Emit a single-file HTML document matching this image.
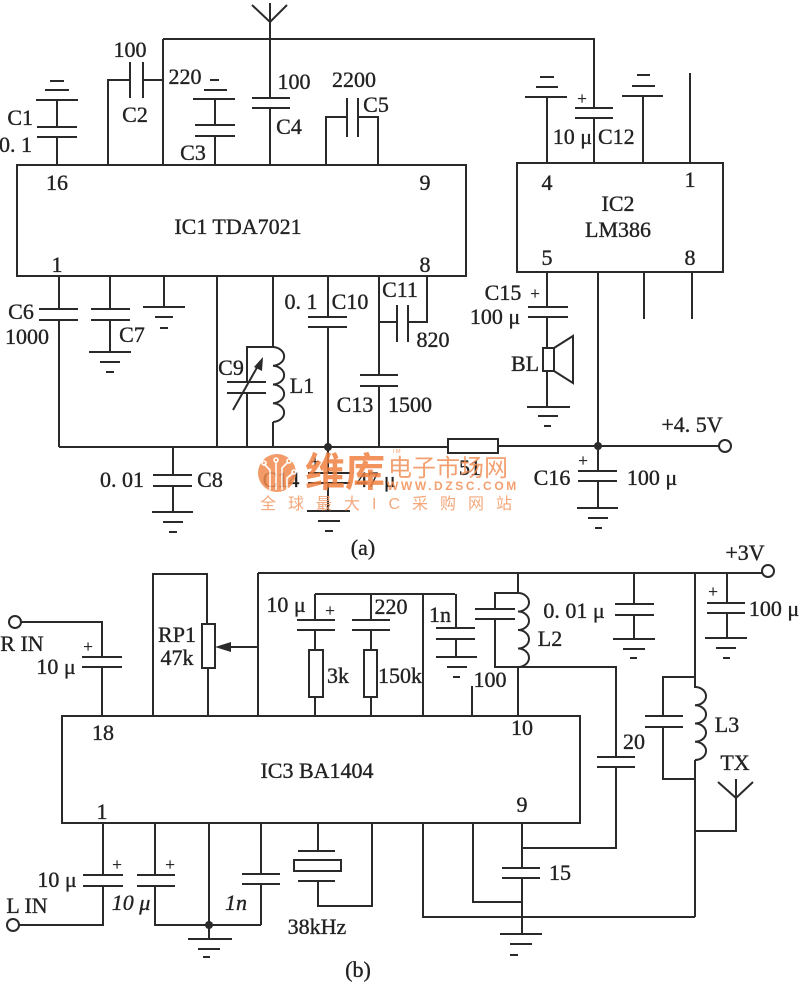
<!DOCTYPE html>
<html><head><meta charset="utf-8"><style>
html,body{margin:0;padding:0;background:#fff;}
svg{display:block;}
text{font-family:"Liberation Serif","Noto Serif CJK SC",serif;fill:#222;font-size:22px;stroke:#222;stroke-width:0.35px;}
.s{font-size:17px;}
.wm{font-family:"Liberation Sans","Noto Sans CJK SC",sans-serif;stroke:none;}
</style></head><body>
<svg width="800" height="982" viewBox="0 0 800 982" xmlns="http://www.w3.org/2000/svg">
<g stroke="#2a2a2a" stroke-width="2" fill="none">
<!-- (a) top -->
<path d="M252,5 L270,22 L287,5 M270,3 V98 M252,98 H290 M252,108 H290 M270,108 V165
M163,39 H594 V108 M575,108 H613 M575,118 H613 M594,118 V163
M163,39 V165
M108,165 V80 H130 M130,62 V98 M143,62 V98 M143,80 H163
M50,81 H64 M45,90 H69 M36,100 H78 M57,100 V127 M37,127 H77 M37,137 H77 M57,137 V165
M210,80 H219 M204,90 H227 M193,99 H235 M215,99 V125 M195,125 H235 M195,136 H235 M215,136 V165
M347,98 V137 M358,98 V137 M347,117 H326 V165 M358,117 H378 V165
M540,77 H554 M536,87 H558 M525,97 H567 M547,97 V163
M637,75 H650 M632,86 H655 M622,96 H663 M643,96 V163
M690,73 V163"/>
<rect x="17" y="165" width="449" height="111"/>
<rect x="517" y="163" width="206" height="109"/>
<!-- (a) bottom -->
<path d="M59,276 V309 M39,309 H78 M39,320 H78 M59,320 V447
M110,276 V309 M91,309 H130 M91,320 H130 M110,320 V352 M89,352 H131 M100,362 H120 M106,372 H114
M164,276 V307 M143,307 H185 M155,317 H173 M160,328 H168
M217,276 V447
M273,276 V347 M273,422 V447
M273,347 a12,9.4 0 0 1 0,18.75 a12,9.4 0 0 1 0,18.75 a12,9.4 0 0 1 0,18.75 a12,9.4 0 0 1 0,18.75
M273,347 H247 V382 M227,382 H266 M227,393 H266 M247,393 V447
M233,410 L259,364
M328,276 V317 M308,317 H347 M308,327 H347 M328,327 V447
M379,276 V375 M360,375 H398 M360,386 H398 M379,386 V447
M379,322 H397 M397,305 V342 M408,305 V342 M408,322 H427 V276
M59,447 H448 M498,446 H719
M173,447 V475 M153,475 H192 M153,486 H192 M173,486 V512 M152,512 H193 M163,522 H183 M169,532 H177
M328,447 V473 M308,473 H350 M308,483 H350 M328,483 V511 M307,511 H350 M318,521 H340 M325,531 H333
M598,272 V471 M578,471 H617 M578,481 H617 M598,481 V508 M577,508 H618 M588,518 H608 M595,528 H602
M547,272 V307 M528,307 H568 M528,317 H568 M547,317 V348 M547,371 V407 M527,407 H570 M538,416 H558 M544,426 H551
M644,272 V319 M692,272 V319"/>
<rect x="448" y="439" width="50" height="14"/>
<rect x="543" y="348" width="11" height="23"/>
<path d="M554,348 L573,336 L573,383 L554,371"/>
<circle cx="725" cy="446" r="6" fill="#fff"/>
<!-- (b) -->
<path d="M258,573 H762
M21,622 H102 V657 M82,657 H122 M82,667 H122 M102,667 V716
M153,716 V574 H207 V624 M208,668 V716
M258,573 V716 M258,647 H228
M315,594 H455 M423,594 V716
M315,594 V620 M297,620 H335 M297,630 H335 M315,630 V650 M315,697 V716
M371,594 V620 M352,620 H390 M352,630 H390 M371,630 V650 M371,697 V716
M456,594 V628 M436,628 H475 M436,639 H475 M456,639 V657 M436,657 H477 M447,667 H467 M453,677 H460
M472,686 V716
M518,573 V593 a11,9.25 0 0 1 0,18.5 a11,9.25 0 0 1 0,18.5 a11,9.25 0 0 1 0,18.5 a11,9.25 0 0 1 0,18.5
M518,593 H495 V609 M495,619 V667 H518 M475,609 H515 M475,619 H515
M518,667 V716 M518,667 H616 V757 M597,757 H635 M597,767 H635 M616,767 V848 H522
M634,573 V604 M615,604 H654 M615,615 H654 M634,615 V639 M613,639 H655 M623,649 H645 M630,658 H637
M727,572 V603 M707,603 H745 M707,613 H745 M727,613 V638 M705,638 H747 M716,648 H736 M723,658 H730
M695,572 V687 a11,9.1 0 0 1 0,18.25 a11,9.1 0 0 1 0,18.25 a11,9.1 0 0 1 0,18.25 a11,9.1 0 0 1 0,18.25 M695,760 V917
M695,677 H663 V716 M663,727 V779 H695 M645,716 H683 M645,727 H683
M718,782 L736,798 L753,782 M736,779 V831 H695
M695,917 H423 V823
M522,823 V868 M502,868 H540 M502,878 H540 M522,878 V934 M522,902 H473 V823 M500,934 H542 M510,944 H532 M510,955 H518
M103,823 V875 M83,875 H123 M83,886 H123 M103,886 V925 H19
M155,823 V875 M137,875 H175 M137,886 H175 M155,886 V925 H261
M209,823 V939 M188,939 H232 M198,949 H220 M203,957 H210
M261,823 V874 M242,874 H280 M242,884 H280 M261,884 V925
M318,823 V851 M298,851 H335 M298,881 H335 M318,881 V906 H372 V823"/>
<rect x="62" y="716" width="518" height="107"/>
<rect x="202" y="624" width="13" height="44"/>
<rect x="309" y="650" width="14" height="47"/>
<rect x="364" y="650" width="13" height="47"/>
<rect x="294" y="860" width="47" height="11"/>
<circle cx="15" cy="622" r="6" fill="#fff"/>
<circle cx="13" cy="925" r="6" fill="#fff"/>
<circle cx="768" cy="571" r="6" fill="#fff"/>
</g>
<g fill="#2a2a2a">
<polygon points="263,357 262,371 254,367"/>
<polygon points="215,647 231,642 231,652"/>
<circle cx="328" cy="447" r="4"/>
<circle cx="598" cy="446" r="4"/>
<circle cx="209" cy="925" r="4"/>
</g>

<!-- labels (a) -->
<text x="130" y="57" text-anchor="middle">100</text>
<text x="135" y="122" text-anchor="middle">C2</text>
<text x="33" y="125" text-anchor="end">C1</text>
<text x="32" y="152" text-anchor="end">0. 1</text>
<text x="185" y="84" text-anchor="middle">220</text>
<text x="193" y="160" text-anchor="middle">C3</text>
<text x="294" y="89" text-anchor="middle">100</text>
<text x="289" y="134" text-anchor="middle">C4</text>
<text x="354" y="87" text-anchor="middle">2200</text>
<text x="376" y="112" text-anchor="middle">C5</text>
<text x="57" y="190" text-anchor="middle">16</text>
<text x="425" y="190" text-anchor="middle">9</text>
<text x="57" y="272" text-anchor="middle">1</text>
<text x="425" y="272" text-anchor="middle">8</text>
<text x="238" y="234" text-anchor="middle">IC1  TDA7021</text>
<text x="547" y="190" text-anchor="middle">4</text>
<text x="690" y="187" text-anchor="middle">1</text>
<text x="618" y="211" text-anchor="middle">IC2</text>
<text x="618" y="237" text-anchor="middle">LM386</text>
<text x="547" y="265" text-anchor="middle">5</text>
<text x="690" y="265" text-anchor="middle">8</text>
<text x="592" y="144" text-anchor="end">10 μ</text>
<text x="598" y="144">C12</text>
<text x="582" y="104" text-anchor="middle" class="s">+</text>
<text x="21" y="319" text-anchor="middle">C6</text>
<text x="27" y="344" text-anchor="middle">1000</text>
<text x="132" y="342" text-anchor="middle">C7</text>
<text x="231" y="375" text-anchor="middle">C9</text>
<text x="302" y="393" text-anchor="middle">L1</text>
<text x="301" y="309" text-anchor="middle">0. 1</text>
<text x="350" y="309" text-anchor="middle">C10</text>
<text x="400" y="297" text-anchor="middle">C11</text>
<text x="433" y="347" text-anchor="middle">820</text>
<text x="355" y="412" text-anchor="middle">C13</text>
<text x="410" y="412" text-anchor="middle">1500</text>
<text x="122" y="487" text-anchor="middle">0. 01</text>
<text x="210" y="487" text-anchor="middle">C8</text>
<text x="281" y="487" text-anchor="middle">C14</text>
<text x="315" y="467" text-anchor="middle" class="s">+</text>
<text x="376" y="487" text-anchor="middle">47 μ</text>
<text x="470" y="475" text-anchor="middle">51</text>
<text x="363" y="555" text-anchor="middle">(a)</text>
<text x="692" y="432" text-anchor="middle">+4. 5V</text>
<text x="552" y="485" text-anchor="middle">C16</text>
<text x="652" y="485" text-anchor="middle">100 μ</text>
<text x="583" y="466" text-anchor="middle" class="s">+</text>
<text x="503" y="300" text-anchor="middle">C15</text>
<text x="495" y="324" text-anchor="middle">100 μ</text>
<text x="535" y="299" text-anchor="middle" class="s">+</text>
<text x="525" y="371" text-anchor="middle">BL</text>

<!-- labels (b) -->
<text x="745" y="560" text-anchor="middle">+3V</text>
<text x="22" y="651" text-anchor="middle">R IN</text>
<text x="56" y="674" text-anchor="middle">10 μ</text>
<text x="88" y="652" text-anchor="middle" class="s">+</text>
<text x="177" y="642" text-anchor="middle">RP1</text>
<text x="177" y="665" text-anchor="middle">47k</text>
<text x="286" y="612" text-anchor="middle">10 μ</text>
<text x="330" y="616" text-anchor="middle" class="s">+</text>
<text x="338" y="683" text-anchor="middle">3k</text>
<text x="391" y="614" text-anchor="middle">220</text>
<text x="400" y="683" text-anchor="middle">150k</text>
<text x="440" y="622" text-anchor="middle">1n</text>
<text x="490" y="687" text-anchor="middle">100</text>
<text x="550" y="646" text-anchor="middle">L2</text>
<text x="574" y="618" text-anchor="middle">0. 01 μ</text>
<text x="774" y="616" text-anchor="middle">100 μ</text>
<text x="713" y="597" text-anchor="middle" class="s">+</text>
<text x="634" y="749" text-anchor="middle">20</text>
<text x="727" y="732" text-anchor="middle">L3</text>
<text x="735" y="770" text-anchor="middle">TX</text>
<text x="103" y="740" text-anchor="middle">18</text>
<text x="522" y="735" text-anchor="middle">10</text>
<text x="317" y="778" text-anchor="middle">IC3  BA1404</text>
<text x="102" y="819" text-anchor="middle">1</text>
<text x="522" y="812" text-anchor="middle">9</text>
<text x="560" y="880" text-anchor="middle">15</text>
<text x="57" y="887" text-anchor="middle">10 μ</text>
<text x="117" y="870" text-anchor="middle" class="s">+</text>
<text x="27" y="913" text-anchor="middle">L IN</text>
<text x="131" y="910" text-anchor="middle" font-style="italic">10 μ</text>
<text x="170" y="870" text-anchor="middle" class="s">+</text>
<text x="236" y="910" text-anchor="middle" font-style="italic">1n</text>
<text x="317" y="934" text-anchor="middle">38kHz</text>
<text x="358" y="977" text-anchor="middle">(b)</text>

<!-- watermark -->
<g opacity="0.85">
<circle cx="277" cy="473" r="19" fill="#f08a4e"/>
<g stroke="#fff" stroke-width="1.6" fill="none">
<path d="M270,490 V470 L264,464 M276,490 V462 M282,490 V468 L288,462 M287,490 V478 L293,473"/>
<circle cx="264" cy="463" r="2"/><circle cx="276" cy="460" r="2"/><circle cx="289" cy="461" r="2"/><circle cx="294" cy="472" r="2"/>
</g>
<text x="305" y="486" class="wm" font-weight="bold" style="fill:#f08040;font-size:40px;">维库</text>
<text x="388" y="476" class="wm" style="fill:#f29058;font-size:24px;">电子市场网</text>
<text x="392" y="453" class="wm" style="fill:#f29058;font-size:6px;">TM</text>
<text x="387" y="490" class="wm" font-weight="bold" letter-spacing="2.6" style="fill:#f29058;font-size:12px;">WWW.DZSC.COM</text>
<text x="260" y="509" class="wm" letter-spacing="12" style="fill:#f29a66;font-size:16px;">全球最大IC采购网站</text>
</g>
</svg>
</body></html>
